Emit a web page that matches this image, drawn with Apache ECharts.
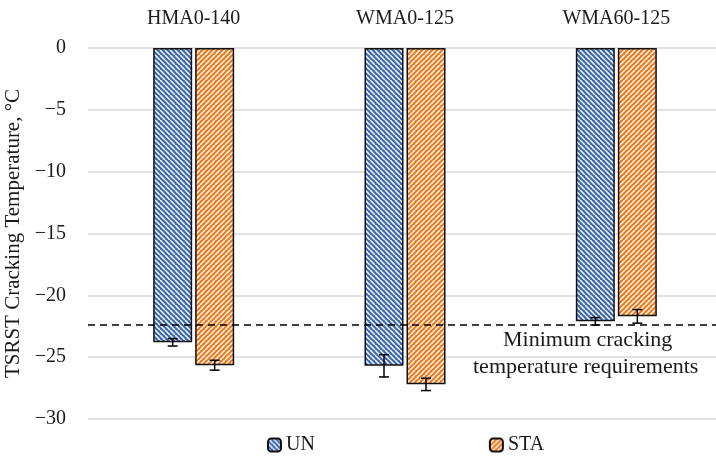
<!DOCTYPE html>
<html><head><meta charset="utf-8">
<script src="https://cdn.jsdelivr.net/npm/echarts@6/dist/echarts.min.js"></script>
<style>html,body{margin:0;padding:0;background:#fff}#c{width:716px;height:463px}</style>
</head><body><div id="c"></div>
<script>
const categories = ['HMA0-140', 'WMA0-125', 'WMA60-125'];
const seriesNames = ['UN', 'STA'];
const unValues = [-23.8, -25.7, -22.1];
const staValues = [-25.65, -27.2, -21.7];
const unErr = [0.3, 0.9, 0.3];
const staErr = [0.4, 0.5, 0.55];
const minRequirement = -22.4;
const annotationLines = ['Minimum cracking', 'temperature requirements'];

const FONT = '"Liberation Serif", "DejaVu Serif", serif';
const TXT = '#1a1a1a';
const BAR_W = 39, GAP_PX = 3;

function makePattern(base, dir) {
  const s = 5;
  const cv = document.createElement('canvas');
  cv.width = s; cv.height = s;
  const ctx = cv.getContext('2d');
  ctx.fillStyle = base; ctx.fillRect(0, 0, s, s);
  ctx.strokeStyle = '#ffffff'; ctx.lineWidth = 1.5;
  for (let k = -1; k <= 1; k++) {
    ctx.beginPath();
    if (dir === 'down') { ctx.moveTo(k * s, 0); ctx.lineTo(k * s + s, s); }
    else { ctx.moveTo(k * s, s); ctx.lineTo(k * s + s, 0); }
    ctx.stroke();
  }
  return { image: cv, repeat: 'repeat' };
}
const bluePat = makePattern('#3a67ad', 'down');
const orangePat = makePattern('#f07818', 'up');

function errSeries(vals, errs, sign) {
  return {
    type: 'custom',
    z: 10,
    silent: true,
    data: vals.map((v, i) => [i, v, errs[i]]),
    renderItem: function (params, api) {
      const i = api.value(0), v = api.value(1), e = api.value(2);
      const off = sign * (BAR_W + GAP_PX) / 2;
      const top = api.coord([i, v + e]);
      const bot = api.coord([i, v - e]);
      const x = top[0] + off;
      const cap = 5;
      const st = { stroke: '#000', lineWidth: 1.5 };
      return {
        type: 'group',
        children: [
          { type: 'line', shape: { x1: x, y1: top[1], x2: x, y2: bot[1] }, style: st },
          { type: 'line', shape: { x1: x - cap, y1: top[1], x2: x + cap, y2: top[1] }, style: st },
          { type: 'line', shape: { x1: x - cap, y1: bot[1], x2: x + cap, y2: bot[1] }, style: st }
        ]
      };
    }
  };
}

const chart = echarts.init(document.getElementById('c'), null, { renderer: 'canvas' });
chart.setOption({
  animation: false,
  textStyle: { fontFamily: FONT },
  grid: { left: 88, right: -6, top: 48, bottom: 44, containLabel: false, outerBoundsMode: 'none' },
  legend: {
    bottom: 3,
    left: 262,
    itemGap: 174,
    itemWidth: 13,
    itemHeight: 13,
    textStyle: { fontFamily: FONT, fontSize: 20, color: TXT },
    data: seriesNames
  },
  xAxis: {
    type: 'category',
    data: categories,
    position: 'top',
    axisLine: { show: false },
    axisTick: { show: false },
    axisLabel: { fontFamily: FONT, fontSize: 20, color: TXT, margin: 19 }
  },
  yAxis: {
    type: 'value',
    min: -30, max: 0, interval: 5,
    name: 'TSRST Cracking Temperature, °C',
    nameLocation: 'middle',
    nameGap: 50,
    nameTextStyle: { fontFamily: FONT, fontSize: 21, color: TXT },
    axisLine: { show: false },
    axisTick: { show: false },
    axisLabel: {
      fontFamily: FONT, fontSize: 20, color: TXT, margin: 22,
      formatter: v => String(v).replace('-', '\u2212')
    },
    splitLine: { lineStyle: { color: '#d9d9d9', width: 1.5 } }
  },
  series: [
    {
      name: 'UN', type: 'bar', data: unValues, barWidth: BAR_W, barGap: (GAP_PX / BAR_W * 100) + '%',
      itemStyle: { color: bluePat, borderColor: '#111', borderWidth: 1.5 },
      markLine: {
        silent: true, symbol: 'none',
        lineStyle: { color: '#000', type: [7, 5], width: 1.5 },
        label: { show: false },
        data: [{ yAxis: minRequirement }]
      }
    },
    {
      name: 'STA', type: 'bar', data: staValues, barWidth: BAR_W,
      itemStyle: { color: orangePat, borderColor: '#111', borderWidth: 1.5 }
    },
    errSeries(unValues, unErr, -1),
    errSeries(staValues, staErr, 1)
  ],
  graphic: [
    { type: 'text', left: 503, top: 329, style: { text: annotationLines[0], font: '22px ' + FONT, fill: TXT } },
    { type: 'text', left: 473, top: 356, style: { text: annotationLines[1], font: '22px ' + FONT, fill: TXT } }
  ]
});
</script>
</body></html>
